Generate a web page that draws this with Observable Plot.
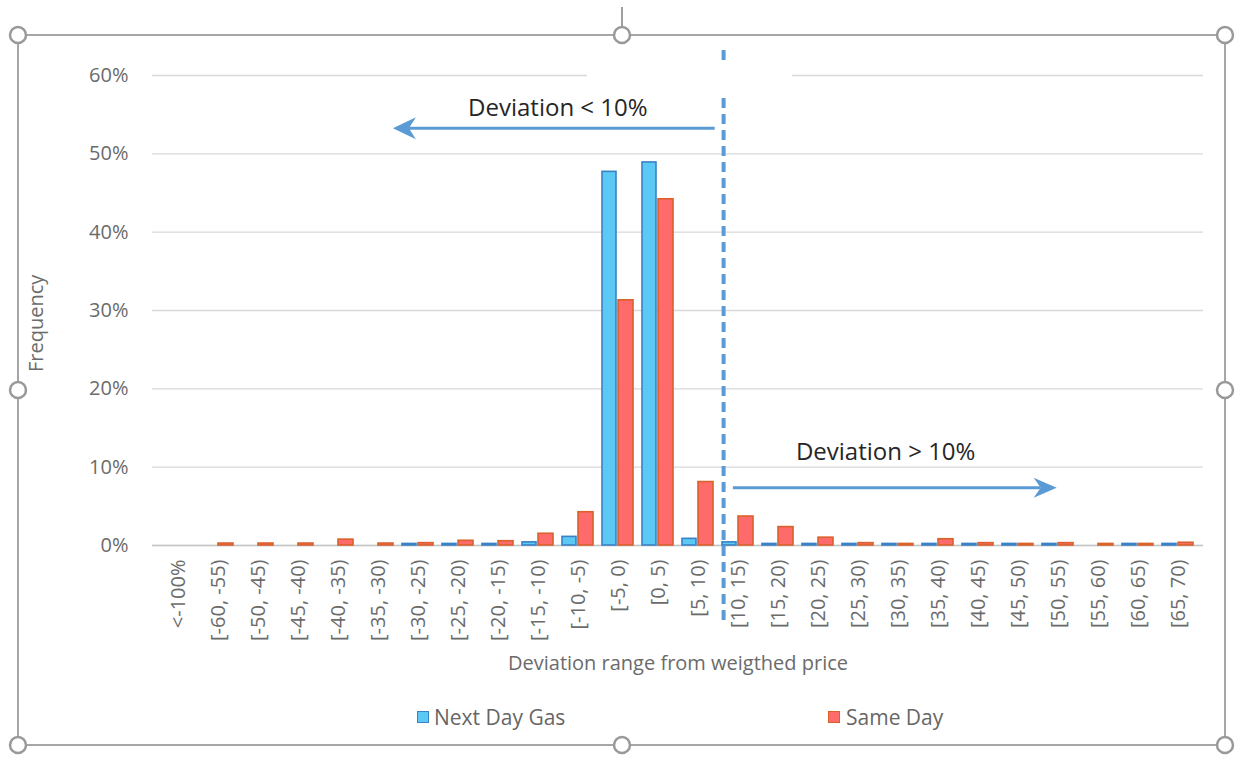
<!DOCTYPE html>
<html><head><meta charset="utf-8">
<script src="https://cdn.jsdelivr.net/npm/d3@7"></script>
<script src="https://cdn.jsdelivr.net/npm/@observablehq/plot@0.6"></script>
<style>
html,body{margin:0;padding:0;background:#fff;}
#wrap{position:relative;width:1236px;height:758px;overflow:hidden;font-family:"Open Sans",sans-serif;}
#chart{position:absolute;left:0;top:0;}
#legend{position:absolute;top:0;left:0;width:1236px;height:758px;pointer-events:none;}
.item{position:absolute;top:703px;height:28px;line-height:28px;font-size:21px;color:#666;white-space:nowrap;}
.sw{position:absolute;width:10px;height:10px;border:1.5px solid;}
#frame{position:absolute;left:0;top:0;pointer-events:none;}
</style></head><body>
<div id="wrap"><div id="chart"></div><div id="legend"></div><svg id="frame" width="1236" height="758"></svg></div>
<script>
// ---- data ----
const categories = ["<-100%","[-60, -55)","[-50, -45)","[-45, -40)","[-40, -35)","[-35, -30)","[-30, -25)","[-25, -20)","[-20, -15)","[-15, -10)","[-10, -5)","[-5, 0)","[0, 5)","[5, 10)","[10, 15)","[15, 20)","[20, 25)","[25, 30)","[30, 35)","[35, 40)","[40, 45)","[45, 50)","[50, 55)","[55, 60)","[60, 65)","[65, 70)"];
const nextDayGas = [null,null,null,null,null,null,0.2,0.2,0.2,0.4,1.1,47.7,48.9,0.85,0.4,0.2,0.2,0.2,0.2,0.2,0.2,0.2,0.2,null,0.2,0.2];
const sameDay = [null,0.25,0.25,0.25,0.75,0.25,0.3,0.6,0.55,1.5,4.25,31.3,44.2,8.1,3.7,2.35,1.0,0.3,0.2,0.8,0.3,0.2,0.3,0.2,0.2,0.35];
const seriesNames = ["Next Day Gas","Same Day"];
const yTicks = [0,10,20,30,40,50,60];
const xTitle = "Deviation range from weigthed price";
const yTitle = "Frequency";
const annotationTexts = ["Deviation < 10%","Deviation > 10%"];

// ---- styling / annotation placement (band units, y in %) ----
const colors = {nd:{fill:"#5bc9f4",stroke:"#3a82c6"}, sd:{fill:"#ff6b6b",stroke:"#d9622b"}};
const annot = {
  divider:{p:14.14, y1:63.2, y2:-10.2},
  mask:{p1:10.76, p2:15.83, y1:61.8, y2:57.7},
  arrows:[{p1:13.92, p2:5.96, y:53.2, h:11},{p1:14.37, p2:22.38, y:7.3, h:10}],
  labels:[{p:10.04, y:56.0},{p:18.15, y:12.1}],
  yTitle:{dx:-117, y:28.3}
};

const nd = categories.map((c,i)=>({cat:c, v:nextDayGas[i]})).filter(d=>d.v!=null);
const sd = categories.map((c,i)=>({cat:c, v:sameDay[i]})).filter(d=>d.v!=null);

const chart = Plot.plot({
  width:1236, height:690,
  marginLeft:152, marginRight:33, marginTop:75, marginBottom:145,
  style:{fontFamily:"Open Sans", fontSize:"20px", color:"#6b6b6b", background:"transparent"},
  x:{domain:categories, padding:0, label:null},
  y:{domain:[0,60], label:null},
  marks:[
    Plot.gridY(yTicks, {stroke:"#d9d9d9", strokeOpacity:1, strokeWidth:1.3}),
    Plot.ruleY([0], {stroke:"#c6c6c6", strokeWidth:1.5}),
    Plot.axisY(yTicks, {tickSize:0, tickPadding:24, tickFormat:d=>d+"%", label:null}),
    Plot.axisX({tickRotate:-90, tickSize:0, tickPadding:14, label:null}),
    Plot.barY(nd, {x:"cat", y:"v", fill:colors.nd.fill, stroke:colors.nd.stroke, strokeWidth:1.6, insetLeft:4, insetRight:22}),
    Plot.barY(sd, {x:"cat", y:"v", fill:colors.sd.fill, stroke:colors.sd.stroke, strokeWidth:1.6, insetLeft:20, insetRight:5}),
    Plot.text([xTitle], {frameAnchor:"bottom", dy:118, lineAnchor:"middle", text:d=>d})
  ]
});
document.getElementById("chart").appendChild(chart);

// ---- annotations via scales ----
const xs = chart.scale("x"), ys = chart.scale("y");
const step = (xs.range[1]-xs.range[0])/categories.length;
const px = p => xs.range[0] + p*step;
const py = v => ys.apply(v);
const svg = d3.select(chart);
const g = svg.append("g");
const blue = "#5b9bd5";
// y-axis title
const ytx = xs.range[0] + annot.yTitle.dx, yty = py(annot.yTitle.y);
g.append("text").attr("transform",`translate(${ytx},${yty}) rotate(-90)`)
  .attr("text-anchor","middle").attr("dominant-baseline","central")
  .attr("fill","currentColor").attr("font-size",20).text(yTitle);
g.append("line").attr("x1",px(annot.divider.p)).attr("x2",px(annot.divider.p))
  .attr("y1",py(annot.divider.y1)).attr("y2",py(annot.divider.y2))
  .attr("stroke",blue).attr("stroke-width",4).attr("stroke-dasharray","10,6");
g.append("rect").attr("x",px(annot.mask.p1)).attr("y",py(annot.mask.y1))
  .attr("width",px(annot.mask.p2)-px(annot.mask.p1)).attr("height",py(annot.mask.y2)-py(annot.mask.y1))
  .attr("fill","#fff");
annot.arrows.forEach(a=>{
  const x1=px(a.p1), x2=px(a.p2), y=py(a.y), dir = x2>x1?1:-1;
  const L = 23, notch = 16;
  g.append("line").attr("x1",x1).attr("x2",x2-dir*notch).attr("y1",y).attr("y2",y)
    .attr("stroke",blue).attr("stroke-width",3);
  g.append("path").attr("d",`M${x2},${y}L${x2-dir*L},${y-a.h}L${x2-dir*notch},${y}L${x2-dir*L},${y+a.h}Z`).attr("fill",blue);
});
annot.labels.forEach((l,i)=>{
  g.append("text").attr("x",px(l.p)).attr("y",py(l.y)).attr("text-anchor","middle")
    .attr("dominant-baseline","central").attr("font-size",24).attr("fill","#262626")
    .attr("font-family","Open Sans").text(annotationTexts[i]);
});

// ---- legend ----
const legend = document.getElementById("legend");
[[417,434,colors.nd],[828,846,colors.sd]].forEach(([sx,tx,c],i)=>{
  const sw = document.createElement("div"); sw.className="sw";
  sw.style.left=sx+"px"; sw.style.top="711px"; sw.style.background=c.fill; sw.style.borderColor=c.stroke;
  legend.appendChild(sw);
  const t = document.createElement("div"); t.className="item"; t.style.left=tx+"px"; t.textContent=seriesNames[i];
  legend.appendChild(t);
});

// ---- selection frame ----
const fr = d3.select("#frame");
fr.append("line").attr("x1",622).attr("x2",622).attr("y1",7).attr("y2",27).attr("stroke","#a0a0a0").attr("stroke-width",2);
fr.append("rect").attr("x",18).attr("y",35).attr("width",1207).attr("height",710).attr("fill","none").attr("stroke","#a6a6a6").attr("stroke-width",2);
[[18,35],[622,35],[1225,35],[18,390],[1225,390],[18,745],[622,745],[1225,745]].forEach(([cx,cy])=>{
  fr.append("circle").attr("cx",cx).attr("cy",cy).attr("r",8).attr("fill","#fff").attr("stroke","#999").attr("stroke-width",2.5);
});
</script>
</body></html>
